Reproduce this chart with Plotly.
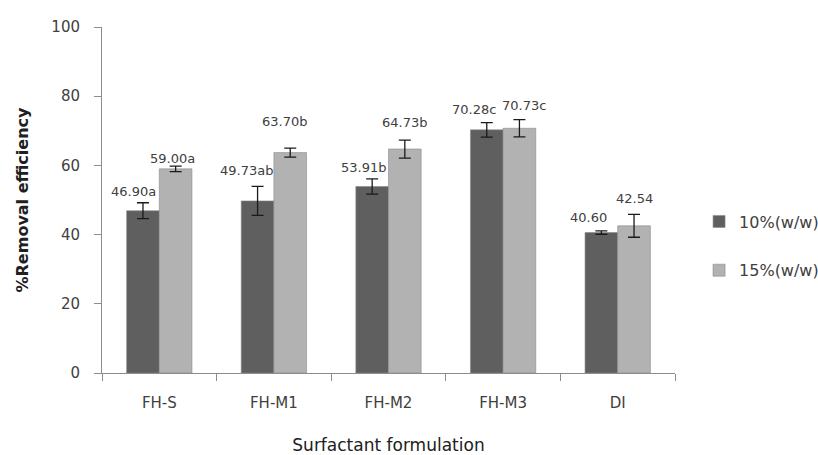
import plotly.graph_objects as go

# Removal efficiency by surfactant formulation and concentration
formulations = ["FH-S", "FH-M1", "FH-M2", "FH-M3", "DI"]
series_names = ["10%(w/w)", "15%(w/w)"]
removal_10 = [46.90, 49.73, 53.91, 70.28, 40.60]
removal_15 = [59.00, 63.70, 64.73, 70.73, 42.54]
sd_10 = [2.3, 4.2, 2.2, 2.1, 0.5]
sd_15 = [0.8, 1.3, 2.6, 2.5, 3.3]
letters_10 = ["a", "ab", "b", "c", ""]
letters_15 = ["a", "b", "b", "c", ""]

colors = ["#5f5f5f", "#b2b2b2"]
FONT = "DejaVu Sans"
TEXT = "#404040"

# label nudges in pixels (x, y) relative to the top of each error bar
nudge_10 = [(-9, 2), (-11, 6), (-9, 2), (-13, 4), (-13, 4)]
nudge_15 = [(-3, -2), (-6, 17), (-1, 8), (4, 5), (0, 6)]

fig = go.Figure()
for name, vals, sd, col in [
    (series_names[0], removal_10, sd_10, colors[0]),
    (series_names[1], removal_15, sd_15, colors[1]),
]:
    fig.add_trace(go.Bar(
        x=formulations, y=vals, name=name, legendgroup=name,
        marker=dict(color=col, line=dict(color="#8a8a8a", width=0.6)),
        error_y=dict(type="data", array=sd, visible=True,
                     color="#1a1a1a", thickness=1.3, width=6),
    ))

annotations = []
for i, f in enumerate(formulations):
    for vals, sd, lets, nudge, side in [
        (removal_10, sd_10, letters_10, nudge_10, -1),
        (removal_15, sd_15, letters_15, nudge_15, 1),
    ]:
        dx, dy = nudge[i]
        annotations.append(dict(
            x=f, y=vals[i] + sd[i], xref="x", yref="y",
            text=f"{vals[i]:.2f}{lets[i]}", showarrow=False,
            xshift=side * 16.5 + dx, yshift=dy, yanchor="bottom",
            font=dict(family=FONT, size=13, color=TEXT),
        ))

fig.update_layout(
    width=818, height=455,
    margin=dict(l=102, r=143, t=27, b=82, autoexpand=False),
    paper_bgcolor="white", plot_bgcolor="white",
    barmode="group", bargap=0.43, bargroupgap=0,
    font=dict(family=FONT, size=15, color=TEXT),
    annotations=annotations,
    showlegend=True,
    legend=dict(x=1.042, y=0.487, xanchor="left", yanchor="top",
                font=dict(family=FONT, size=16, color=TEXT),
                tracegroupgap=25, bgcolor="rgba(0,0,0,0)"),
    xaxis=dict(
        type="category", showline=True, linecolor="#8c8c8c", linewidth=1,
        ticks="outside", tickson="boundaries", ticklen=7, tickcolor="#8c8c8c",
        showgrid=False, ticklabelstandoff=16,
        tickfont=dict(family=FONT, size=15, color=TEXT),
        title=dict(text="Surfactant formulation", standoff=29,
                   font=dict(family=FONT, size=17, color="#202020")),
    ),
    yaxis=dict(
        range=[0, 100], tickvals=[0, 20, 40, 60, 80, 100],
        showline=True, linecolor="#8c8c8c", linewidth=1,
        ticks="outside", ticklen=7, tickcolor="#8c8c8c",
        showgrid=False, zeroline=False, ticklabelstandoff=11,
        tickfont=dict(family=FONT, size=15, color=TEXT),
        title=dict(text="<b>%Removal efficiency</b>", standoff=18,
                   font=dict(family=FONT, size=16, color="#202020")),
    ),
)

fig.write_html("out.html")
